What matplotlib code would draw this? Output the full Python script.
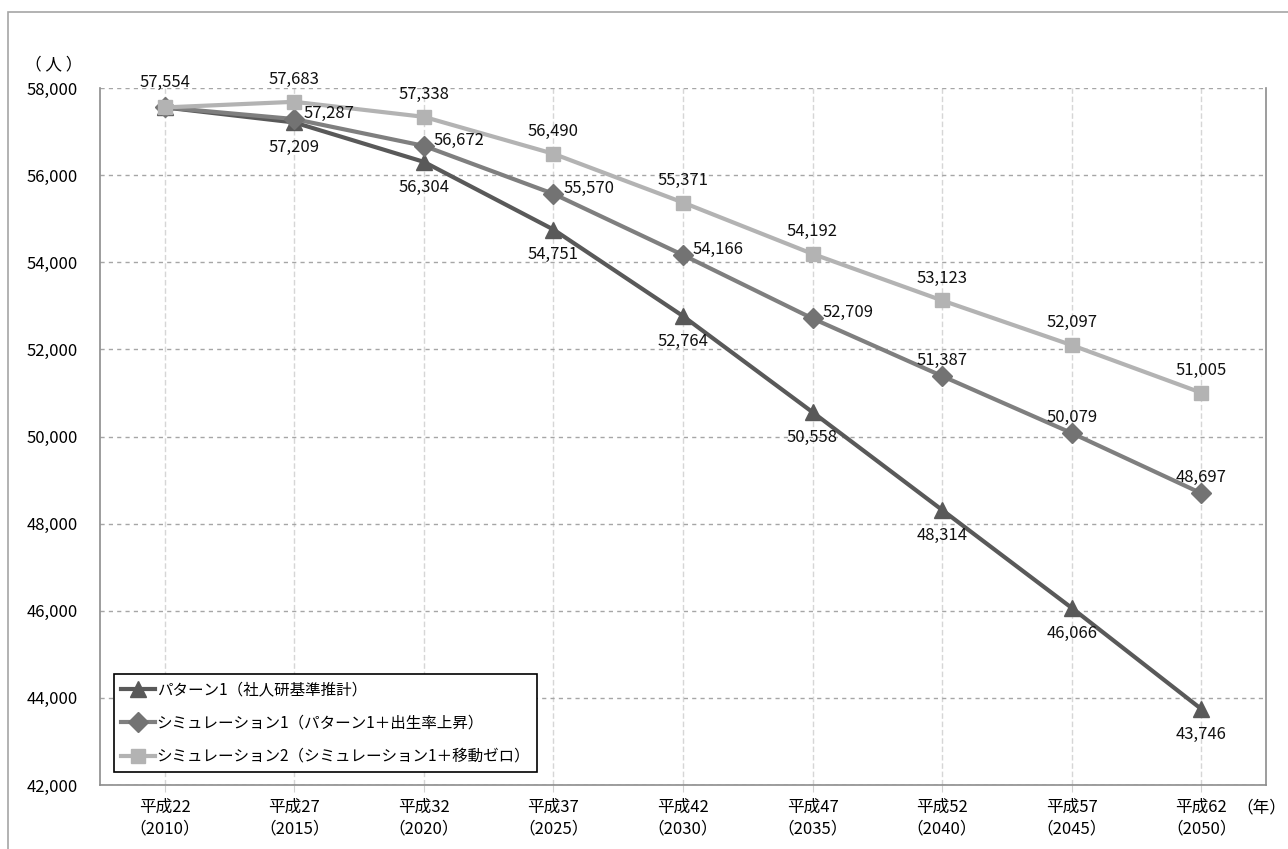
import matplotlib.pyplot as plt
from matplotlib.patches import Rectangle

plt.rcParams['font.family'] = ['Noto Sans CJK JP', 'DejaVu Sans']

# 推計人口（人）
years = ['平成22\n（2010）', '平成27\n（2015）', '平成32\n（2020）', '平成37\n（2025）', '平成42\n（2030）',
         '平成47\n（2035）', '平成52\n（2040）', '平成57\n（2045）', '平成62\n（2050）']
pattern1 = [57554, 57209, 56304, 54751, 52764, 50558, 48314, 46066, 43746]
sim1 = [57554, 57287, 56672, 55570, 54166, 52709, 51387, 50079, 48697]
sim2 = [57554, 57683, 57338, 56490, 55371, 54192, 53123, 52097, 51005]
names = ['パターン1（社人研基準推計）',
         'シミュレーション1（パターン1＋出生率上昇）',
         'シミュレーション2（シミュレーション1＋移動ゼロ）']

fig = plt.figure(figsize=(12.88, 8.49), dpi=100)
ax = fig.add_axes([100 / 1288, 1 - 785 / 849, 1166 / 1288, 697 / 849])

# 外枠
fig.patches.append(Rectangle((8 / 1288, -0.05), 1.2, 1 - 12 / 849 + 0.05, transform=fig.transFigure,
                             fill=False, edgecolor='#a6a6a6', linewidth=1.2, zorder=0))

x = range(len(years))
ax.plot(x, pattern1, color='#595959', lw=3, marker='^', ms=11, mfc='#595959', mec='#595959', label=names[0], zorder=3)
ax.plot(x, sim1, color='#7f7f7f', lw=3, marker='D', ms=10, mfc='#737373', mec='#737373', label=names[1], zorder=4)
ax.plot(x, sim2, color='#b3b3b3', lw=3, marker='s', ms=10, mfc='#b3b3b3', mec='#b3b3b3', label=names[2], zorder=5)

ax.set_xlim(-0.5, 8.5)
ax.set_ylim(42000, 58000)
ax.set_yticks(range(42000, 58001, 2000))
ax.set_yticklabels([f'{v:,}' for v in range(42000, 58001, 2000)], fontsize=12)
ax.set_xticks(list(x))
ax.set_xticklabels(years, fontsize=12, linespacing=1.35)
ax.tick_params(axis='y', length=0, pad=16)
ax.tick_params(axis='x', length=5, color='#d0d0d0', pad=5)

ax.grid(axis='y', color='#a6a6a6', ls=(0, (3, 3)), lw=1)
ax.grid(axis='x', color='#d6d6d6', ls=(0, (4, 2)), lw=1)
ax.set_axisbelow(True)
for s in ['left', 'bottom', 'right']:
    ax.spines[s].set_color('#8c8c8c')
    ax.spines[s].set_linewidth(1.2)
ax.spines['top'].set_visible(False)

lab = dict(fontsize=12, color='#111111', zorder=6)
for i, v in enumerate(pattern1):
    if i == 0:
        continue
    ax.annotate(f'{v:,}', (i, v), xytext=(0, -12), textcoords='offset points', ha='center', va='top', **lab)
for i, v in enumerate(sim1):
    if i == 0:
        continue
    if i <= 5:
        ax.annotate(f'{v:,}', (i, v), xytext=(7, 4), textcoords='offset points', ha='left', va='center', **lab)
    else:
        ax.annotate(f'{v:,}', (i, v), xytext=(0, 5), textcoords='offset points', ha='center', va='bottom', **lab)
for i, v in enumerate(sim2):
    dy = 12 if i == 0 else 10
    ax.annotate(f'{v:,}', (i, v), xytext=(0, dy), textcoords='offset points', ha='center', va='bottom', **lab)

fig.text(54 / 1288, 1 - 65 / 849, '（ 人 ）', fontsize=12, ha='center', va='center')
fig.text(1236 / 1288, 1 - 808 / 849, '（年）', fontsize=12, ha='left', va='center')

leg = ax.legend(loc='lower left', bbox_to_anchor=(14 / 1166, 13 / 697), fontsize=11.2, frameon=True,
                fancybox=False, edgecolor='black', framealpha=1, handlelength=2.2, handletextpad=0.1,
                labelspacing=1.05, borderpad=0.45, borderaxespad=0)
leg.get_frame().set_linewidth(1.2)

fig.savefig('out.png', dpi=100)
